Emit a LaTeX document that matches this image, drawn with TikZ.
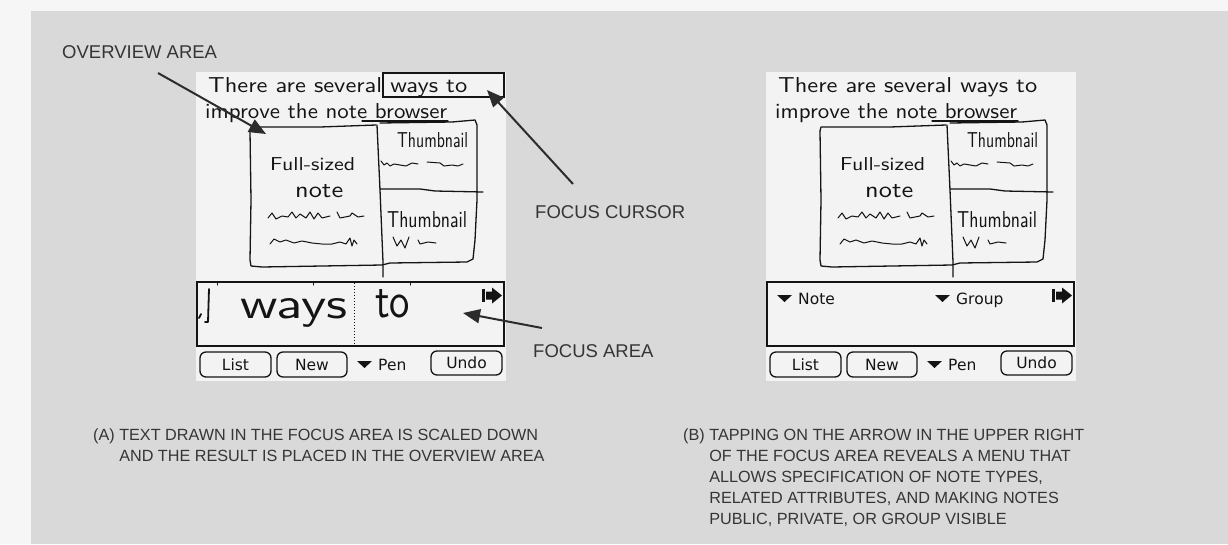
\documentclass[tikz,border=0pt]{standalone}
\usepackage{fontspec}
\usepackage{graphicx}
\setmainfont{Liberation Sans}
\newfontfamily\palmfont{DejaVu Sans}
\usetikzlibrary{arrows.meta}

\definecolor{pagebg}{HTML}{F6F6F6}
\definecolor{panelbg}{HTML}{D9D9D9}
\definecolor{screenbg}{HTML}{F3F3F3}
\definecolor{ink}{HTML}{141414}
\definecolor{labelink}{HTML}{353535}

% handwritten word stretched to a given width and height
\newcommand\handword[3]{\resizebox{#1pt}{#2pt}{\sffamily #3}}

\tikzset{
  inkline/.style={draw=ink, line width=1.3pt, line join=round, line cap=round},
  hand/.style={inner sep=0pt, text=ink, anchor=base west},
  btn/.style={draw=ink, line width=1.3pt, rounded corners=6pt, fill=screenbg,
    inner sep=0pt, text=ink, font=\palmfont\fontsize{15.5}{15.5}\selectfont,
    text height=11pt, text depth=0pt},
  palmtext/.style={inner sep=0pt, text=ink, anchor=base west,
    font=\palmfont\fontsize{15.5}{15.5}\selectfont},
  label/.style={inner sep=0pt, text=labelink, anchor=base west,
    font=\fontsize{18.5}{21}\selectfont},
  caption/.style={inner sep=0pt, text=labelink, anchor=base west,
    font=\fontsize{16.2}{21}\selectfont},
  pointer/.style={draw=ink!90, line width=2pt,
    -{Triangle[length=17pt,width=14pt]}},
  % the handheld screen shared by both panels
  palmscreen/.pic={
    \path[fill=screenbg] (196,72) rectangle (506,381);
    % handwritten note text
    \node[hand] (-line1) at (208,92) {\handword{259}{15}{There are several ways to}};
    \node[hand] (-line2) at (205,118) {\handword{242}{15}{improve the note browser}};
    \path[inkline] (362,121) -- (448,121);
    % hand-drawn browser outline
    \path[inkline] (250,131) -- (251,127) -- (320,127) -- (376,125);
    \path[inkline] (380,123) -- (452,122) -- (475,120) -- (477,125)
      -- (477,200) -- (475,240) -- (473,259) -- (467,262) -- (390,263)
      -- (382,265) -- (262,267) -- (251,266) -- (250,260) -- (251,200) -- (250,131);
    \path[inkline] (377,125) -- (380,190) -- (383,262) -- (383,277);
    \path[inkline] (380,189) -- (420,189) -- (435,191) -- (483,192);
    \node[hand] (-thumb1) at (397,147) {\handword{71}{15}{Thumbnail}};
    \node[hand] (-full) at (270,170) {\handword{85}{13}{Full-sized}};
    \node[hand] (-note) at (295,197) {\handword{48}{13}{note}};
    \node[hand] (-thumb2) at (387,227) {\handword{80}{16}{Thumbnail}};
    % scribbled lines standing for note text
    \path[inkline, line width=1pt] (381,161) -- (384,165) -- (387,163) -- (390,166)
      -- (394,164) -- (400,165) -- (406,166) -- (412,163) -- (418,164);
    \path[inkline, line width=1pt] (427,162) -- (440,163) -- (444,166) -- (452,165)
      -- (458,166) -- (463,164);
    \path[inkline, line width=1pt] (268,218) -- (272,213) -- (276,219) -- (282,216)
      -- (288,217) -- (292,212) -- (296,218) -- (300,214) -- (306,218) -- (310,212)
      -- (314,219) -- (318,213) -- (322,218) -- (330,216);
    \path[inkline, line width=1pt] (337,212) -- (340,218) -- (350,216) -- (352,213)
      -- (358,217) -- (364,216);
    \path[inkline, line width=1pt] (270,244) -- (274,239) -- (280,242) -- (286,240)
      -- (294,243) -- (302,241) -- (312,243) -- (322,244) -- (332,244) -- (340,242)
      -- (346,244) -- (350,238) -- (352,246) -- (354,240) -- (357,244);
    \path[inkline, line width=1pt] (393,237) -- (397,246) -- (401,240) -- (405,248)
      -- (409,237);
    \path[inkline, line width=1pt] (418,240) -- (420,244) -- (428,242) -- (436,243);
    % focus area frame and its menu arrow
    \path[draw=ink, line width=1.5pt] (197,282) rectangle (504,346);
    \fill[ink] (482,289) rectangle (484.5,302);
    \fill[ink] (486,291.5) -- (492,291.5) -- (492,287.5) -- (502,295.5)
      -- (492,303.5) -- (492,299.5) -- (486,299.5) -- cycle;
    % button bar
    \node[btn, minimum width=71pt, minimum height=25pt] (-list) at (235.5,364.5) {List};
    \node[btn, minimum width=70pt, minimum height=25pt] (-new) at (312,364.5) {New};
    \node[btn, minimum width=71pt, minimum height=24pt] (-undo) at (466.5,363) {Undo};
    \fill[ink] (357,361) -- (372,361) -- (364.5,368) -- cycle;
    \node[palmtext] (-pen) at (378,370) {Pen};
  }
}

\begin{document}
\begin{tikzpicture}[x=1pt, y=-1pt]
  \useasboundingbox (0,0) rectangle (1228,544);
  \fill[pagebg] (0,0) rectangle (1228,544);
  \fill[panelbg] (31,11) rectangle (1228,544);

  % panel (A): writing in the focus area
  \pic (scrA) at (0,0) {palmscreen};
  \path[draw=ink, line width=1.5pt] (383,73) rectangle (504,97);
  \path[draw=ink, line width=1pt, dotted] (354,283) -- (354,346);
  \path[inkline, line width=1pt] (217,282) -- (217,285) (313,282) -- (313,285)
    (410,282) -- (410,285);
  \path[inkline, line width=1.8pt] (209,289) -- (208,322) -- (205,322);
  \path[inkline, line width=1.8pt] (199,318) -- (201,314);
  \node[hand] (waysA) at (240,318) {\handword{107}{20}{ways}};
  \node[hand] (toA) at (375,317) {\handword{35}{28}{to}};

  % panel (B): the focus area menu
  \pic (scrB) at (570,0) {palmscreen};
  \fill[ink] (777,295) -- (792,295) -- (784.5,302) -- cycle;
  \node[palmtext] (menunote) at (798,304) {Note};
  \fill[ink] (935,295) -- (950,295) -- (942.5,302) -- cycle;
  \node[palmtext] (menugroup) at (956,304) {Group};

  % callout labels and pointers
  \node[label] (ovlabel) at (62,58.5) {OVERVIEW AREA};
  \node[label] (curlabel) at (535,218) {FOCUS CURSOR};
  \node[label] (falabel) at (533,357) {FOCUS AREA};
  \coordinate (ovstart) at (158,73);
  \coordinate (ovtip) at (266,134);
  \coordinate (curstart) at (573,184);
  \coordinate (curtip) at (487,90);
  \coordinate (fastart) at (542,328);
  \coordinate (fatip) at (463,313);
  \draw[pointer] (ovstart) -- (ovtip);
  \draw[pointer] (curstart) -- (curtip);
  \draw[pointer] (fastart) -- (fatip);

  % captions
  \node[caption] (capA) at (93,440) {\begin{tabular}[t]{@{}l@{ }l@{}}
    (A) & TEXT DRAWN IN THE FOCUS AREA IS SCALED DOWN\\
        & AND THE RESULT IS PLACED IN THE OVERVIEW AREA
  \end{tabular}};
  \node[caption] (capB) at (683,440) {\begin{tabular}[t]{@{}l@{ }l@{}}
    (B) & TAPPING ON THE ARROW IN THE UPPER RIGHT\\
        & OF THE FOCUS AREA REVEALS A MENU THAT\\
        & ALLOWS SPECIFICATION OF NOTE TYPES,\\
        & RELATED ATTRIBUTES, AND MAKING NOTES\\
        & PUBLIC, PRIVATE, OR GROUP VISIBLE
  \end{tabular}};
\end{tikzpicture}
\end{document}
